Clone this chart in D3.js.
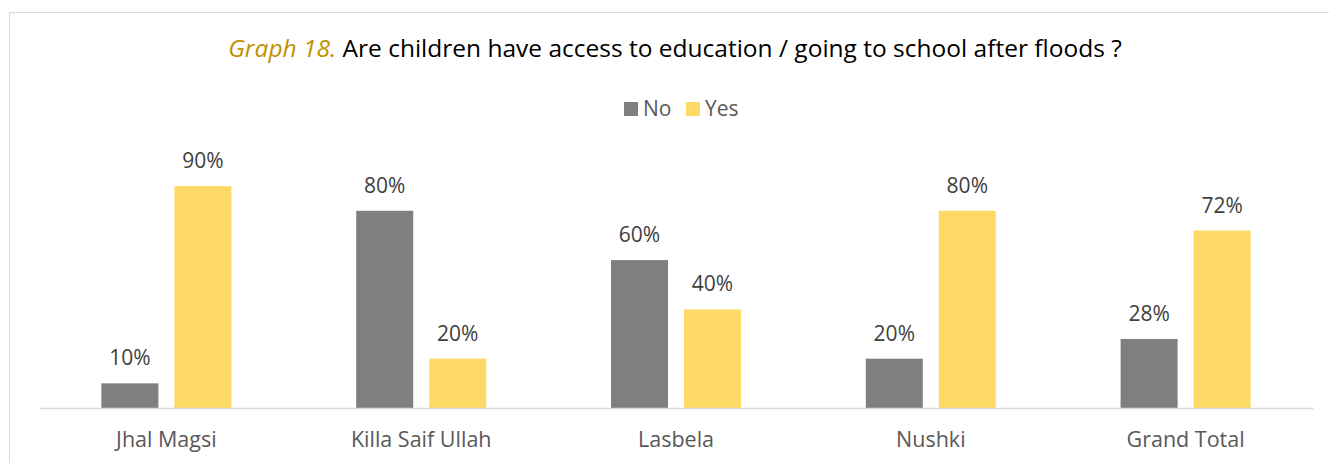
<!DOCTYPE html>
<html>
<head>
<meta charset="utf-8">
<script src="https://cdn.jsdelivr.net/npm/d3@7"></script>
<style>
  html, body { margin: 0; padding: 0; background: #fff; }
  svg { display: block; font-family: "Open Sans", Lato, sans-serif; }
</style>
</head>
<body>
<svg id="chart" width="1329" height="463"></svg>
<script>
// Survey answers per district (share of respondents)
const districts = ["Jhal Magsi", "Killa Saif Ullah", "Lasbela", "Nushki", "Grand Total"];
const seriesNames = ["No", "Yes"];
const noValues = [0.10, 0.80, 0.60, 0.20, 0.28];
const yesValues = [0.90, 0.20, 0.40, 0.80, 0.72];
const seriesColors = ["#7f7f7f", "#ffd966"];

const svg = d3.select("#chart");
const W = 1329, H = 463;
const plot = { left: 39, right: 1313, top: 161.5, bottom: 408 };

// Frame around the chart area
svg.append("rect")
  .attr("x", 9.5).attr("y", 12.5)
  .attr("width", W + 20).attr("height", H)
  .attr("fill", "#fff").attr("stroke", "#d9d9d9").attr("stroke-width", 1);

// Title
const title = svg.append("text")
  .attr("x", (227 + 1123) / 2).attr("y", 57)
  .attr("text-anchor", "middle")
  .attr("font-size", 24.5)
  .attr("fill", "#000");
title.append("tspan").attr("font-style", "italic").attr("fill", "#bf9000").text("Graph 18.");
title.append("tspan").text(" Are children have access to education / going to school after floods ?");

// Legend
const legendItems = [
  { name: seriesNames[0], color: seriesColors[0], x: 624 },
  { name: seriesNames[1], color: seriesColors[1], x: 686 }
];
const lg = svg.append("g").selectAll("g").data(legendItems).join("g")
  .attr("transform", d => `translate(${d.x},102)`);
lg.append("rect").attr("width", 14).attr("height", 14).attr("fill", d => d.color);
lg.append("text").attr("x", 19).attr("y", 14)
  .attr("font-size", 21).attr("fill", "#595959").text(d => d.name);

// Scales
const x0 = d3.scaleBand().domain(districts).range([plot.left, plot.right]);
const y = d3.scaleLinear().domain([0, 1]).range([plot.bottom, plot.top]);
const barW = 57, gap = 16;
const x1 = d3.scaleOrdinal().domain(seriesNames)
  .range([-(barW + gap / 2), gap / 2]);

const rows = districts.map((d, i) => ({
  district: d,
  values: [
    { series: "No", v: noValues[i], color: seriesColors[0] },
    { series: "Yes", v: yesValues[i], color: seriesColors[1] }
  ]
}));

const groups = svg.append("g").selectAll("g").data(rows).join("g")
  .attr("transform", d => `translate(${x0(d.district) + x0.bandwidth() / 2},0)`);

groups.selectAll("rect").data(d => d.values).join("rect")
  .attr("x", d => x1(d.series))
  .attr("y", d => y(d.v))
  .attr("width", barW)
  .attr("height", d => plot.bottom - y(d.v))
  .attr("fill", d => d.color);

const fmt = d3.format(".0%");
groups.selectAll("text").data(d => d.values).join("text")
  .attr("x", d => x1(d.series) + barW / 2)
  .attr("y", d => y(d.v) - 18)
  .attr("text-anchor", "middle")
  .attr("font-size", 21)
  .attr("fill", "#404040")
  .text(d => fmt(d.v));

// Category axis
const axis = svg.append("g")
  .attr("transform", `translate(0,${plot.bottom})`)
  .call(d3.axisBottom(x0).tickSize(0).tickPadding(24));
axis.select(".domain").attr("stroke", "#d9d9d9").attr("stroke-width", 1.5);
axis.selectAll("text")
  .attr("font-family", "'Open Sans', Lato, sans-serif")
  .attr("font-size", 21.5).attr("fill", "#595959");
</script>
</body>
</html>
